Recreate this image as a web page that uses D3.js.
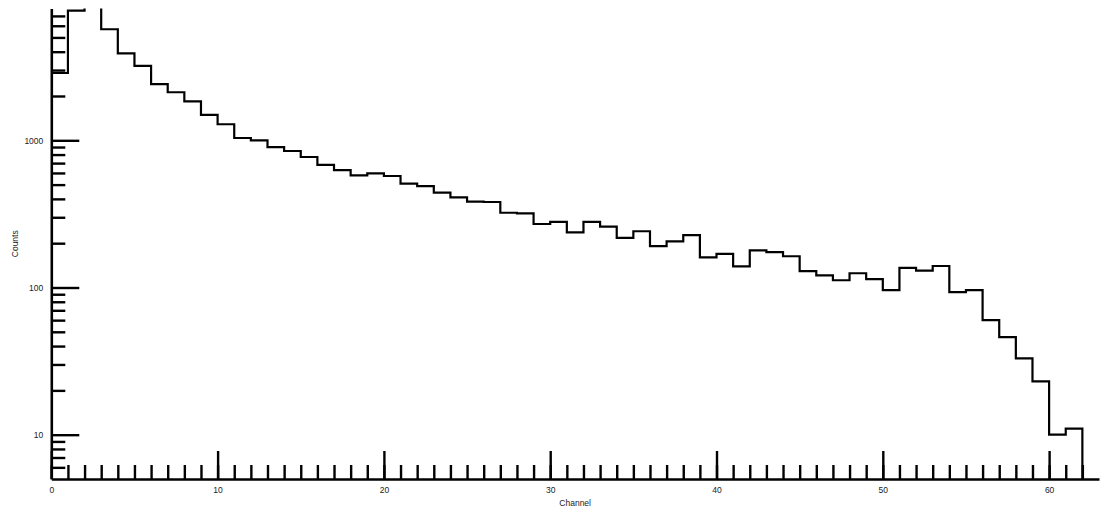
<!DOCTYPE html>
<html>
<head>
<meta charset="utf-8">
<script src="https://cdn.jsdelivr.net/npm/d3@7"></script>
<style>
  html, body { margin: 0; padding: 0; background: #fff; }
  svg { display: block; }
  text { font-family: "Liberation Sans", Arial, Helvetica, sans-serif; }
</style>
</head>
<body>
<svg id="chart" width="1102" height="510"></svg>
<script>
// ---- data ----
const channels = [0,1,2,3,4,5,6,7,8,9,10,11,12,13,14,15,16,17,18,19,20,21,22,23,24,25,26,27,28,29,30,
  31,32,33,34,35,36,37,38,39,40,41,42,43,44,45,46,47,48,49,50,51,52,53,54,55,56,57,58,59,60,61];
const counts = [2866,7600,12000,5680,3900,3200,2410,2120,1840,1490,1285,1037,1000,900,846,770,680,628,578,597,
  572,507,489,441,410,383,381,322,319,270,279,237,279,259,217,241,191,206,227,160,169,139,179,174,163,
  129,121,112,125,114,96,136,130,140,93,96,60,46,33,23,10,11];
const xMajorTicks = [0,10,20,30,40,50,60];
const xMinorTicks = d3.range(0, 63);
const yMajorTicks = [10,100,1000];
const yMinorTicks = [6,7,8,9,20,30,40,50,60,70,80,90,200,300,400,500,600,700,800,900,2000,3000,4000,5000,6000,7000];
const xTitle = "Channel";
const yTitle = "Counts";

// ---- layout ----
const mLeft = 51.3, mRight = 1099, mTop = 8.5, mBottom = 479;
const svg = d3.select("#chart");
const x = d3.scaleLinear().domain([0, 63]).range([mLeft, mRight]);
const y = d3.scaleLog().domain([5, 7860]).range([mBottom, mTop]);

svg.append("defs").append("clipPath").attr("id", "plotclip")
  .append("rect").attr("x", mLeft).attr("y", mTop).attr("width", mRight - mLeft).attr("height", mBottom - mTop);

// histogram
const pts = [[0, 5]].concat(channels.map((c, i) => [c, counts[i]]), [[channels[channels.length - 1] + 1, 5]]);
const line = d3.line().x(d => x(d[0])).y(d => y(d[1])).curve(d3.curveStepAfter);
svg.append("path")
  .attr("clip-path", "url(#plotclip)")
  .attr("d", line(pts))
  .attr("fill", "none")
  .attr("stroke", "#000")
  .attr("stroke-width", 2.2);

function styleAxis(g) {
  g.selectAll(".domain").attr("stroke", "#000").attr("stroke-width", 2.6);
  g.selectAll(".tick line").attr("stroke", "#000").attr("stroke-width", 2.4);
  g.selectAll(".tick text").attr("fill", "#222").style("font-size", "8.5px");
}

// x axis minor
const gxMin = svg.append("g").attr("transform", `translate(0,${mBottom})`)
  .call(d3.axisBottom(x).tickValues(xMinorTicks).tickSizeInner(-14).tickSizeOuter(0).tickFormat(""));
gxMin.select(".domain").remove();
styleAxis(gxMin);
// x axis major
const gx = svg.append("g").attr("transform", `translate(0,${mBottom})`)
  .call(d3.axisBottom(x).tickValues(xMajorTicks).tickSizeInner(-28).tickSizeOuter(0).tickPadding(7.5).tickFormat(d3.format("d")));
styleAxis(gx);

// y axis minor
const gyMin = svg.append("g").attr("transform", `translate(${mLeft},0)`)
  .call(d3.axisLeft(y).tickValues(yMinorTicks).tickSizeInner(-14).tickSizeOuter(0).tickFormat(""));
gyMin.select(".domain").remove();
styleAxis(gyMin);
// y axis major
const gy = svg.append("g").attr("transform", `translate(${mLeft},0)`)
  .call(d3.axisLeft(y).tickValues(yMajorTicks).tickSizeInner(-28).tickSizeOuter(0).tickPadding(8).tickFormat(d3.format("d")));
styleAxis(gy);

// titles
svg.append("text")
  .attr("x", (mLeft + mRight) / 2).attr("y", 505.5)
  .attr("text-anchor", "middle").attr("fill", "#222").style("font-size", "8.5px")
  .text(xTitle);
svg.append("text")
  .attr("transform", `translate(17.5,${(mTop + mBottom) / 2}) rotate(-90)`)
  .attr("text-anchor", "middle").attr("fill", "#222").style("font-size", "8.5px")
  .text(yTitle);
</script>
</body>
</html>
